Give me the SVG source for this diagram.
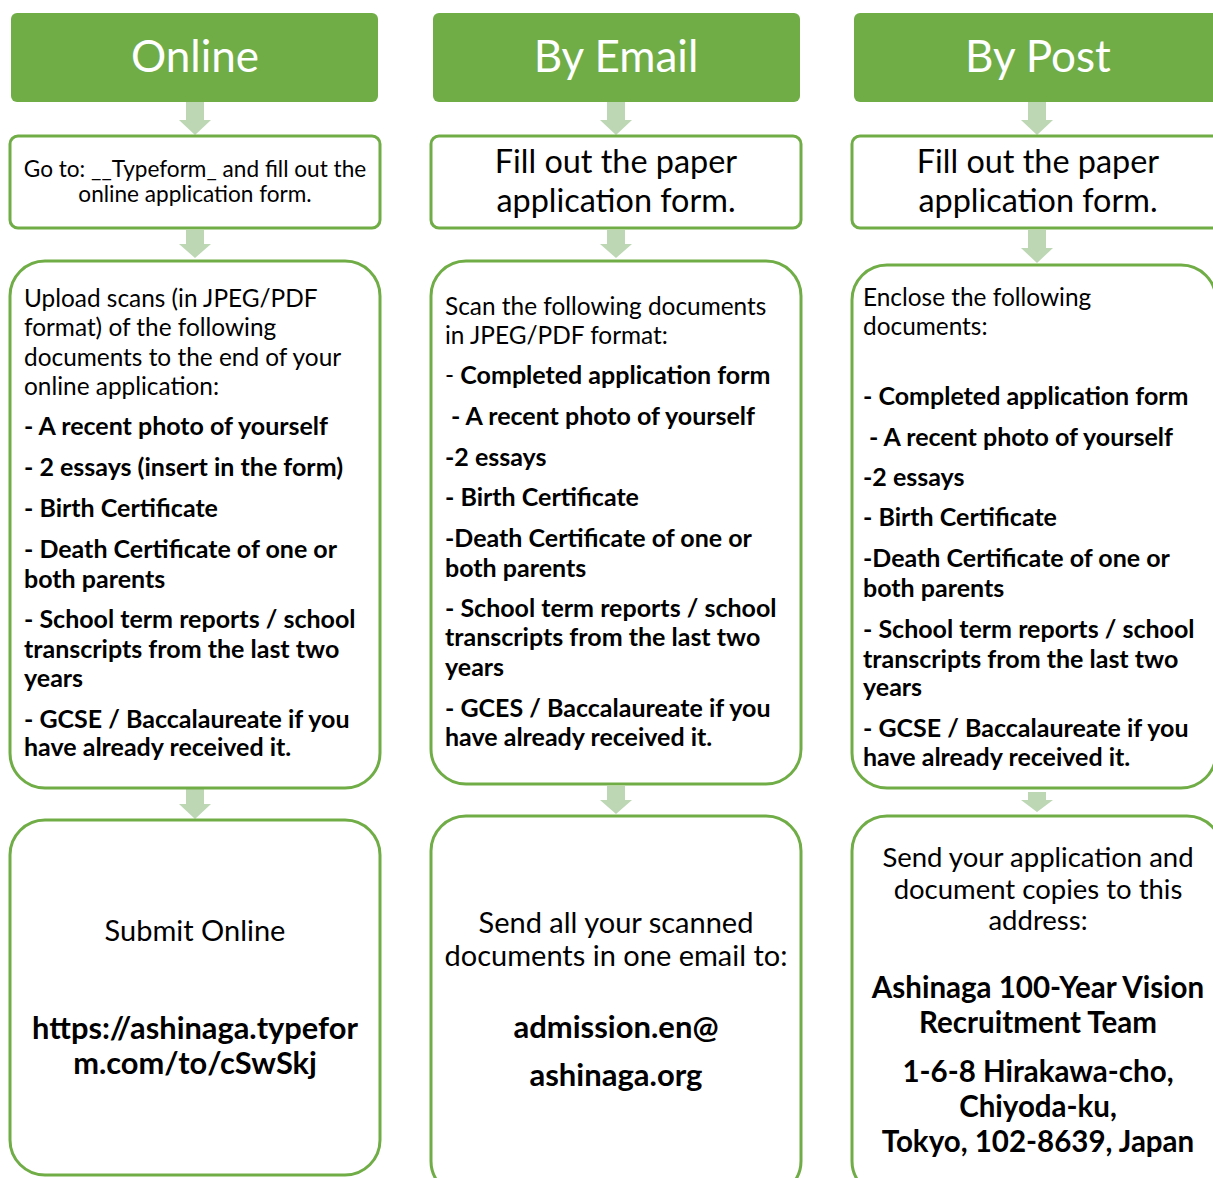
<svg xmlns="http://www.w3.org/2000/svg" width="1213" height="1178" viewBox="0 0 1213 1178">
<style>
text{font-family:Lato,"Open Sans","Liberation Sans",sans-serif;fill:#000}
.hd{fill:#70AD47}
.ht{fill:#fff;font-size:44px;text-anchor:middle}
.bx{fill:#fff;stroke:#70AD47;stroke-width:3}
.ar{fill:#BDD7B4}
.b{font-weight:bold}
.s24{font-size:24.4px}
.s24 .b,.s24 text.b{font-size:25px}
.s20{font-size:22.6px}
.s30{font-size:32.4px;text-anchor:middle}
.s27{font-size:29px;text-anchor:middle}
.c{text-anchor:middle}
</style>
<rect width="1213" height="1178" fill="#fff"/>
<g id="connectors">
<path class="ar" d="M186,102H204V120H211L195,135L179,120H186Z"/>
<path class="ar" d="M607,102H625V120H632L616,135L600,120H607Z"/>
<path class="ar" d="M1028,102H1046V120H1053L1037,135L1021,120H1028Z"/>
<path class="ar" d="M186,230H204V244H211L195,258L179,244H186Z"/>
<path class="ar" d="M607,230H625V244H632L616,258L600,244H607Z"/>
<path class="ar" d="M1028,230H1046V248H1053L1037,263L1021,248H1028Z"/>
<path class="ar" d="M186,789H204V804H211L195,819L179,804H186Z"/>
<path class="ar" d="M607,786H625V800H632L616,814L600,800H607Z"/>
<path class="ar" d="M1028,792H1046V800H1053L1037,812L1021,800H1028Z"/>
</g>
<g id="online-header"><rect class="hd" x="11" y="13" width="367" height="89" rx="6"/><text class="ht" x="195" y="72">Online</text></g>
<g id="email-header"><rect class="hd" x="433" y="13" width="367" height="89" rx="6"/><text class="ht" x="616" y="72">By Email</text></g>
<g id="post-header"><rect class="hd" x="854" y="13" width="367" height="89" rx="6"/><text class="ht" x="1038" y="72">By Post</text></g>

<g id="online-step1"><rect class="bx" x="10" y="136" width="370" height="92" rx="8"/>
<text class="s20 c" x="195" y="177">Go to: __Typeform_ and fill out the</text>
<text class="s20 c" x="195" y="202">online application form.</text></g>
<g id="email-step1"><rect class="bx" x="431" y="136" width="370" height="92" rx="8"/>
<text class="s30" x="616" y="173">Fill out the paper</text>
<text class="s30" x="616" y="212">application form.</text></g>
<g id="post-step1"><rect class="bx" x="852" y="136" width="370" height="92" rx="8"/>
<text class="s30" x="1038" y="173">Fill out the paper</text>
<text class="s30" x="1038" y="212">application form.</text></g>

<g id="online-step2"><rect class="bx" x="10" y="261" width="370" height="527" rx="35"/>
<g class="s24">
<text x="24" y="307">Upload scans (in JPEG/PDF</text>
<text x="24" y="336">format) of the following</text>
<text x="24" y="366">documents to the end of your</text>
<text x="24" y="395">online application:</text>
<g class="b">
<text x="24" y="435">- A recent photo of yourself</text>
<text x="24" y="476">- 2 essays (insert in the form)</text>
<text x="24" y="517">- Birth Certificate</text>
<text x="24" y="558">- Death Certificate of one or</text>
<text x="24" y="588">both parents</text>
<text x="24" y="628">- School term reports / school</text>
<text x="24" y="658">transcripts from the last two</text>
<text x="24" y="687">years</text>
<text x="24" y="728">- GCSE / Baccalaureate if you</text>
<text x="24" y="756">have already received it.</text>
</g></g></g>

<g id="email-step2"><rect class="bx" x="431" y="261" width="370" height="523" rx="35"/>
<g class="s24">
<text x="445" y="315">Scan the following documents</text>
<text x="445" y="344">in JPEG/PDF format:</text>
<text x="445" y="384">- <tspan class="b" style="font-size:25px">Completed application form</tspan></text>
<g class="b">
<text x="451" y="425">- A recent photo of yourself</text>
<text x="445" y="466">-2 essays</text>
<text x="445" y="506">- Birth Certificate</text>
<text x="445" y="547">-Death Certificate of one or</text>
<text x="445" y="577">both parents</text>
<text x="445" y="617">- School term reports / school</text>
<text x="445" y="646">transcripts from the last two</text>
<text x="445" y="676">years</text>
<text x="445" y="717">- GCES / Baccalaureate if you</text>
<text x="445" y="746">have already received it.</text>
</g></g></g>

<g id="post-step2"><rect class="bx" x="852" y="265" width="364" height="523" rx="35"/>
<g class="s24">
<text x="863" y="306">Enclose the following</text>
<text x="863" y="335">documents:</text>
<g class="b">
<text x="863" y="405">- Completed application form</text>
<text x="869" y="446">- A recent photo of yourself</text>
<text x="863" y="486">-2 essays</text>
<text x="863" y="526">- Birth Certificate</text>
<text x="863" y="567">-Death Certificate of one or</text>
<text x="863" y="597">both parents</text>
<text x="863" y="638">- School term reports / school</text>
<text x="863" y="668">transcripts from the last two</text>
<text x="863" y="696">years</text>
<text x="863" y="737">- GCSE / Baccalaureate if you</text>
<text x="863" y="766">have already received it.</text>
</g></g></g>

<g id="online-step3"><rect class="bx" x="10" y="820" width="370" height="355" rx="35"/>
<text class="s27" x="195" y="941">Submit Online</text>
<text class="s27 b" x="195" y="1039" style="font-size:30.8px">https://ashinaga.typefor</text>
<text class="s27 b" x="195" y="1074" style="font-size:30.8px">m.com/to/cSwSkj</text></g>

<g id="email-step3"><rect class="bx" x="431" y="816" width="370" height="380" rx="35"/>
<text class="s27" x="616" y="933">Send all your scanned</text>
<text class="s27" x="616" y="966">documents in one email to:</text>
<text class="s27 b" x="616" y="1038" style="font-size:31px">admission.en@</text>
<text class="s27 b" x="616" y="1086" style="font-size:31px">ashinaga.org</text></g>

<g id="post-step3"><rect class="bx" x="852" y="816" width="370" height="380" rx="35"/>
<g style="font-size:27.5px">
<text class="c" x="1038" y="867">Send your application and</text>
<text class="c" x="1038" y="899">document copies to this</text>
<text class="c" x="1038" y="930">address:</text>
</g>
<g class="b c" style="font-size:29.5px">
<text x="1038" y="998">Ashinaga 100-Year Vision</text>
<text x="1038" y="1033">Recruitment Team</text>
<text x="1038" y="1082">1-6-8 Hirakawa-cho,</text>
<text x="1038" y="1117">Chiyoda-ku,</text>
<text x="1038" y="1152">Tokyo, 102-8639, Japan</text>
</g></g>
</svg>
